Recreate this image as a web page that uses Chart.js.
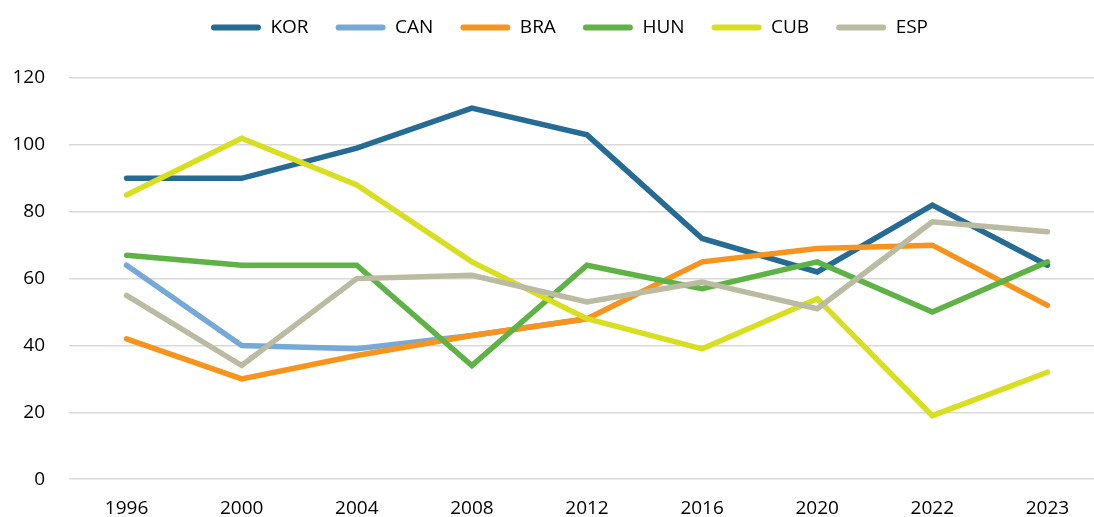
<!DOCTYPE html>
<html>
<head>
<meta charset="utf-8">
<script src="https://cdn.jsdelivr.net/npm/chart.js@4/dist/chart.umd.min.js"></script>
<style>
    html, body { margin: 0; padding: 0; background: #ffffff; overflow: hidden; }
    #wrap { width: 1105px; height: 517px; position: relative; }
</style>
</head>
<body>
<div id="wrap"><canvas id="chart"></canvas></div>
<script>
// ============================================================================
// SIX COUNTRY LINE CHART
// ============================================================================

const years = ['1996', '2000', '2004', '2008', '2012', '2016', '2020', '2022', '2023'];

const kor = [90, 90, 99, 111, 103, 72, 62, 82, 64];
const can = [64, 40, 39, 43, 48, null, null, null, null];
const bra = [42, 30, 37, 43, 48, 65, 69, 70, 52];
const hun = [67, 64, 64, 34, 64, 57, 65, 50, 65];
const cub = [85, 102, 88, 65, 48, 39, 54, 19, 32];
const esp = [55, 34, 60, 61, 53, 59, 51, 77, 74];

const yTicks = [0, 20, 40, 60, 80, 100, 120];

// later series sit on top, like the source chart
function series(label, data, color, order) {
    return {
        label: label,
        data: data,
        order: order,
        borderColor: color,
        backgroundColor: color,
        borderWidth: 5.5,
        pointRadius: 0,
        pointHoverRadius: 0,
        fill: false,
        tension: 0,
        borderCapStyle: 'round',
        borderJoinStyle: 'miter'
    };
}

// extra gap under the legend row, and nudge the row to the right
const legendSpacer = {
    id: 'legendSpacer',
    beforeLayout(chart) {
        const legend = chart.legend;
        if (legend && !legend._spaced) {
            const fit = legend.fit.bind(legend);
            legend.fit = function() { fit(); this.height += 31; };
            legend._spaced = true;
        }
    },
    afterLayout(chart) {
        const legend = chart.legend;
        if (legend) {
            legend.left += 11;
            legend.right += 11;
        }
    }
};

const ctx = document.getElementById('chart').getContext('2d');
const font = { family: 'Open Sans, Noto Sans, sans-serif', size: 19 };

new Chart(ctx, {
    type: 'line',
    data: {
        labels: years,
        datasets: [
            series('KOR', kor, '#256b94', 6),
            series('CAN', can, '#76a9d6', 5),
            series('BRA', bra, '#f7941d', 4),
            series('HUN', hun, '#5fb346', 3),
            series('CUB', cub, '#d8df20', 2),
            series('ESP', esp, '#bbbba2', 1)
        ]
    },
    plugins: [legendSpacer],
    options: {
        responsive: true,
        maintainAspectRatio: false,
        animation: false,
        layout: { padding: { left: 12, right: 0, top: -9, bottom: -13 } },
        plugins: {
            legend: {
                display: true,
                position: 'top',
                labels: {
                    color: '#000000',
                    font: font,
                    boxWidth: 50,
                    boxHeight: 6,
                    padding: 27,
                    useBorderRadius: true,
                    borderRadius: 3,
                    generateLabels: function(chart) {
                        const items = Chart.defaults.plugins.legend.labels.generateLabels(chart);
                        items.forEach(item => { item.lineWidth = 0; });
                        return items.sort((a, b) => a.datasetIndex - b.datasetIndex);
                    }
                }
            },
            tooltip: { enabled: false }
        },
        scales: {
            x: {
                offset: true,
                grid: { display: false },
                border: { display: false },
                ticks: { color: '#000000', font: font, padding: 10 }
            },
            y: {
                min: 0,
                max: 120,
                afterBuildTicks: function(axis) {
                    axis.ticks = yTicks.map(v => ({ value: v }));
                },
                afterFit: function(axis) {
                    axis.width = 57;
                },
                grid: { color: '#d9d9d9', lineWidth: 1.5, drawTicks: false },
                border: { display: false },
                ticks: { color: '#000000', font: font, padding: 24 }
            }
        }
    }
});
</script>
</body>
</html>
